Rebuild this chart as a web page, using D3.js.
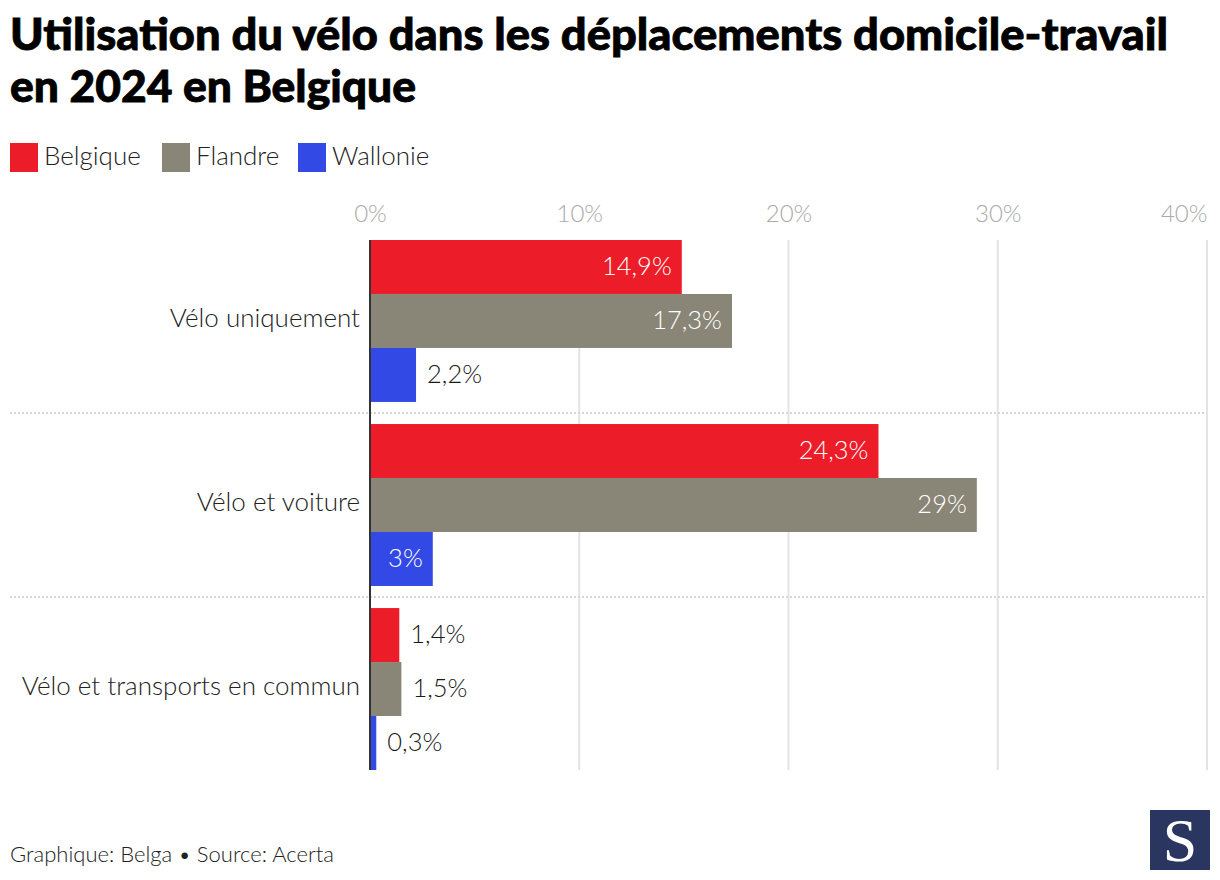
<!DOCTYPE html>
<html>
<head>
<meta charset="utf-8">
<script src="https://cdn.jsdelivr.net/npm/d3@7"></script>
<style>
  body { margin: 0; background: #fff; }
  text { font-family: Lato, "Open Sans", sans-serif; }
</style>
</head>
<body>
<script>
// data
var categories = ["Vélo uniquement", "Vélo et voiture", "Vélo et transports en commun"];
var series = ["Belgique", "Flandre", "Wallonie"];
var colors = ["#ed1c29", "#8a8677", "#3249e6"];
var belgique = [14.9, 24.3, 1.4];
var flandre = [17.3, 29, 1.5];
var wallonie = [2.2, 3, 0.3];
var ticks = [0, 10, 20, 30, 40];

var values = [belgique, flandre, wallonie];

var W = 1220, H = 880;
var margin = {top: 240, right: 13, bottom: 110, left: 370};

var svg = d3.select("body").append("svg")
    .attr("width", W)
    .attr("height", H);

// title
var title = svg.append("g").attr("font-weight", 900).attr("fill", "#000").attr("font-size", 44)
    .attr("stroke", "#000").attr("stroke-width", 0.8);
title.append("text").attr("x", 10).attr("y", 50)
    .attr("textLength", 1158).attr("lengthAdjust", "spacingAndGlyphs")
    .text("Utilisation du vélo dans les déplacements domicile-travail");
title.append("text").attr("x", 10).attr("y", 102)
    .attr("textLength", 406).attr("lengthAdjust", "spacingAndGlyphs")
    .text("en 2024 en Belgique");

// legend
var legX = [10, 162, 298];
var leg = svg.append("g").selectAll("g").data(series).join("g")
    .attr("transform", function(d, i) { return "translate(" + legX[i] + ",143)"; });
leg.append("rect").attr("width", 28).attr("height", 29)
    .attr("fill", function(d, i) { return colors[i]; });
leg.append("text").attr("x", 34).attr("y", 22).attr("font-size", 26)
    .attr("font-weight", 300).attr("fill", "#222")
    .text(function(d) { return d; });

// scales
var x = d3.scaleLinear().domain([0, 40]).range([margin.left, W - margin.right]);
var y0 = d3.scaleBand().domain(categories).range([margin.top, H - margin.bottom])
    .paddingInner(0.12).paddingOuter(0);
var y1 = d3.scaleBand().domain(series).range([0, y0.bandwidth()]);

// gridlines
svg.append("g").selectAll("line").data(ticks.slice(1)).join("line")
    .attr("x1", function(d) { return x(d); }).attr("x2", function(d) { return x(d); })
    .attr("y1", margin.top).attr("y2", H - margin.bottom)
    .attr("stroke", "#e3e3e3").attr("stroke-width", 2);

// x axis labels on top
var xAxis = svg.append("g")
    .attr("transform", "translate(0,225)")
    .call(d3.axisTop(x).tickValues(ticks).tickSize(0).tickFormat(function(d) { return d + "%"; }));
xAxis.select(".domain").remove();
xAxis.selectAll("text").attr("font-size", 24).attr("font-weight", 300)
    .attr("fill", "#aaa")
    .attr("text-anchor", function(d, i) { return i === ticks.length - 1 ? "end" : "middle"; });

// dotted separators between groups
svg.append("g").selectAll("line").data(categories.slice(1)).join("line")
    .attr("x1", 10).attr("x2", 1205)
    .attr("y1", function(d) { return y0(d) - y0.step() * y0.paddingInner() / 2; })
    .attr("y2", function(d) { return y0(d) - y0.step() * y0.paddingInner() / 2; })
    .attr("stroke", "#d6d6d6").attr("stroke-width", 2).attr("stroke-dasharray", "2,2");

// category labels
var yAxis = svg.append("g")
    .attr("transform", "translate(" + (margin.left - 10) + ",0)")
    .call(d3.axisLeft(y0).tickSize(0).tickPadding(0));
yAxis.select(".domain").remove();
yAxis.selectAll("text").attr("font-size", 26).attr("font-weight", 300)
    .attr("fill", "#222")
    .attr("dy", "0.22em");

// bars
var groups = svg.append("g").selectAll("g").data(categories).join("g")
    .attr("transform", function(d) { return "translate(0," + y0(d) + ")"; });

var bars = groups.selectAll("g").data(function(c, ci) {
    return series.map(function(s, si) { return {s: s, si: si, v: values[si][ci]}; });
  }).join("g");

bars.append("rect")
    .attr("x", x(0))
    .attr("y", function(d) { return y1(d.s); })
    .attr("width", function(d) { return x(d.v) - x(0); })
    .attr("height", y1.bandwidth())
    .attr("fill", function(d) { return colors[d.si]; });

bars.append("text")
    .attr("y", function(d) { return y1(d.s) + y1.bandwidth() / 2; })
    .attr("dy", "0.3em")
    .attr("font-size", 25.5).attr("font-weight", 300)
    .text(function(d) { return String(d.v).replace(".", ",") + "%"; })
    .each(function(d) {
      var t = d3.select(this);
      var w = this.getComputedTextLength();
      var bw = x(d.v) - x(0);
      if (w + 16 < bw) {
        t.attr("x", x(d.v) - 10).attr("text-anchor", "end").attr("fill", "#fff");
      } else {
        t.attr("x", x(d.v) + 11).attr("text-anchor", "start").attr("fill", "#1a1a1a");
      }
    });

// zero line
svg.append("line")
    .attr("x1", x(0)).attr("x2", x(0))
    .attr("y1", margin.top).attr("y2", H - margin.bottom)
    .attr("stroke", "#333").attr("stroke-width", 2);

// footer
svg.append("text").attr("x", 10).attr("y", 862).attr("font-size", 22)
    .attr("font-weight", 300).attr("fill", "#222")
    .text("Graphique: Belga • Source: Acerta");

// logo
svg.append("rect").attr("x", 1150).attr("y", 810).attr("width", 60).attr("height", 60)
    .attr("fill", "#2a3560");
svg.append("text").attr("x", 1180).attr("y", 861).attr("text-anchor", "middle")
    .attr("font-size", 62).attr("fill", "#fff")
    .style("font-family", "'Liberation Serif', 'DejaVu Serif', serif")
    .text("S");
</script>
</body>
</html>
